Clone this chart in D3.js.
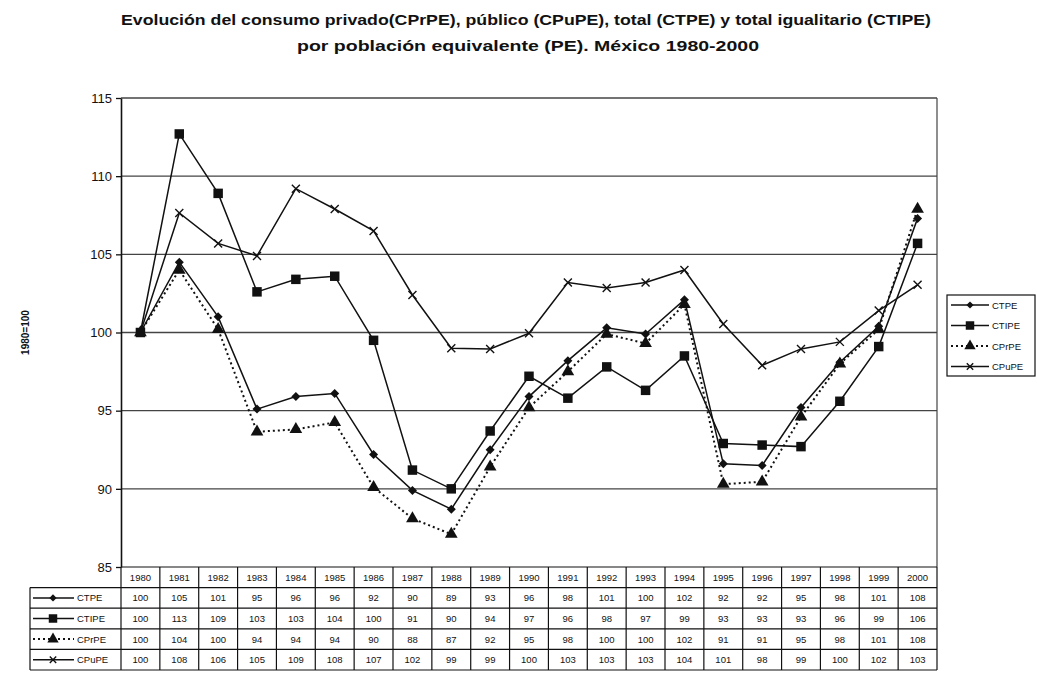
<!DOCTYPE html>
<html>
<head>
<meta charset="utf-8">
<script src="https://cdn.jsdelivr.net/npm/d3@7"></script>
<style>
  body { margin: 0; background: #fff; }
  svg { font-family: "Liberation Sans", Arial, sans-serif; }
</style>
</head>
<body>
<script>
// years on the x axis
var years = ["1980","1981","1982","1983","1984","1985","1986","1987","1988","1989","1990",
             "1991","1992","1993","1994","1995","1996","1997","1998","1999","2000"];

// values as plotted
var ctpe  = [100,104.5,101,95.1,95.9,96.1,92.2,89.9,88.7,92.5,95.9,98.2,100.3,99.9,102.1,91.6,91.5,95.2,98.1,100.4,107.3];
var ctipe = [100,112.7,108.9,102.6,103.4,103.6,99.5,91.2,90,93.7,97.2,95.8,97.8,96.3,98.5,92.9,92.8,92.7,95.6,99.1,105.7];
var cprpe = [100,104,100.2,93.65,93.8,94.25,90.1,88.1,87.1,91.4,95.2,97.5,99.9,99.3,101.8,90.3,90.45,94.6,98,100.2,107.9];
var cpupe = [100,107.65,105.7,104.9,109.2,107.9,106.5,102.4,99,98.95,99.95,103.2,102.85,103.2,104,100.55,97.9,98.95,99.4,101.4,103.05];

// values printed in the data table
var ctpeTab  = [100,105,101,95,96,96,92,90,89,93,96,98,101,100,102,92,92,95,98,101,108];
var ctipeTab = [100,113,109,103,103,104,100,91,90,94,97,96,98,97,99,93,93,93,96,99,106];
var cprpeTab = [100,104,100,94,94,94,90,88,87,92,95,98,100,100,102,91,91,95,98,101,108];
var cpupeTab = [100,108,106,105,109,108,107,102,99,99,100,103,103,103,104,101,98,99,100,102,103];

var yTicks = [85,90,95,100,105,110,115];

var series = [
  { name: "CTPE",  values: ctpe,  table: ctpeTab,  marker: "diamond",  dash: null },
  { name: "CTIPE", values: ctipe, table: ctipeTab, marker: "square",   dash: null },
  { name: "CPrPE", values: cprpe, table: cprpeTab, marker: "triangle", dash: "2,3" },
  { name: "CPuPE", values: cpupe, table: cpupeTab, marker: "cross",    dash: null }
];

var W = 1037, H = 673;
var pLeft = 121, pRight = 937, pTop = 98, pBottom = 567;
var ink = "#111";

var svg = d3.select("body").append("svg")
  .attr("width", W)
  .attr("height", H);

var x = d3.scaleBand().domain(years).range([pLeft, pRight]);
var y = d3.scaleLinear().domain([85, 115]).range([pBottom, pTop]);
var cx = function(yr) { return x(yr) + x.bandwidth() / 2; };

// title
svg.append("text").attr("x", 526).attr("y", 25).attr("text-anchor", "middle")
  .style("font-size", "15.5px").style("font-weight", "bold").attr("fill", ink)
  .attr("textLength", 810).attr("lengthAdjust", "spacingAndGlyphs")
  .text("Evolución del consumo privado(CPrPE), público (CPuPE), total (CTPE) y total igualitario (CTIPE)");
svg.append("text").attr("x", 528).attr("y", 51).attr("text-anchor", "middle")
  .style("font-size", "15.5px").style("font-weight", "bold").attr("fill", ink)
  .attr("textLength", 462).attr("lengthAdjust", "spacingAndGlyphs")
  .text("por población equivalente (PE). México 1980-2000");

// y label
svg.append("text")
  .attr("transform", "translate(29," + y(100) + ") rotate(-90)")
  .attr("text-anchor", "middle")
  .style("font-size", "10px").style("font-weight", "bold").attr("fill", ink)
  .text("1980=100");

// grid lines
svg.append("g").selectAll("line")
  .data(yTicks.filter(function(d) { return d > 85; }))
  .enter().append("line")
  .attr("x1", pLeft).attr("x2", pRight)
  .attr("y1", function(d) { return y(d); })
  .attr("y2", function(d) { return y(d); })
  .attr("stroke", "#444").attr("stroke-width", 1.3);

// right border
svg.append("line").attr("x1", pRight).attr("x2", pRight)
  .attr("y1", pTop).attr("y2", pBottom)
  .attr("stroke", "#444").attr("stroke-width", 1.2);

// y axis
var yAxis = svg.append("g")
  .attr("transform", "translate(" + pLeft + ",0)")
  .call(d3.axisLeft(y).tickValues(yTicks).tickSize(5).tickSizeOuter(0).tickPadding(4));
yAxis.selectAll("text").style("font-size", "13px").attr("fill", ink).style("font-family", "Liberation Sans, Arial");
yAxis.selectAll("line").attr("stroke", ink).attr("stroke-width", 1.3);
yAxis.select(".domain").attr("stroke", ink).attr("stroke-width", 1.6);

// marker drawing
function drawMarker(g, type, px, py, s) {
  if (type === "diamond") {
    var d = s * 0.45;
    g.append("path")
      .attr("d", "M" + px + "," + (py - d) + "L" + (px + d) + "," + py +
                 "L" + px + "," + (py + d) + "L" + (px - d) + "," + py + "Z")
      .attr("fill", ink);
  } else if (type === "square") {
    g.append("path").attr("d", d3.symbol(d3.symbolSquare, s * 9)())
      .attr("transform", "translate(" + px + "," + py + ")").attr("fill", ink);
  } else if (type === "triangle") {
    g.append("path").attr("d", d3.symbol(d3.symbolTriangle, s * 7)())
      .attr("transform", "translate(" + px + "," + py + ")").attr("fill", ink);
  } else {
    var r = s * 0.4;
    g.append("path")
      .attr("d", "M" + (px - r) + "," + (py - r) + "L" + (px + r) + "," + (py + r) +
                 "M" + (px + r) + "," + (py - r) + "L" + (px - r) + "," + (py + r))
      .attr("stroke", ink).attr("stroke-width", 1.4);
  }
}

var line = d3.line()
  .x(function(d, i) { return cx(years[i]); })
  .y(function(d) { return y(d); });

series.forEach(function(s) {
  var g = svg.append("g");
  g.append("path").datum(s.values)
    .attr("d", line)
    .attr("fill", "none")
    .attr("stroke", ink)
    .attr("stroke-width", s.dash ? 2 : 1.5)
    .attr("stroke-dasharray", s.dash);
  s.values.forEach(function(v, i) {
    drawMarker(g, s.marker, cx(years[i]), y(v), 10);
  });
});

// legend
var lg = svg.append("g");
lg.append("rect").attr("x", 947).attr("y", 295).attr("width", 88).attr("height", 81)
  .attr("fill", "#fff").attr("stroke", ink).attr("stroke-width", 1.2);
series.forEach(function(s, i) {
  var ly = 305 + i * 20.5;
  lg.append("line").attr("x1", 951).attr("x2", 989).attr("y1", ly).attr("y2", ly)
    .attr("stroke", ink).attr("stroke-width", s.dash ? 2 : 1.5).attr("stroke-dasharray", s.dash);
  drawMarker(lg, s.marker, 970, ly, 8);
  lg.append("text").attr("x", 992).attr("y", ly + 3.5)
    .style("font-size", "9.5px").attr("fill", ink).text(s.name);
});

// data table
var tTop = pBottom, rowH = 20.6, labelLeft = 30;
var tg = svg.append("g");
// year row
years.forEach(function(yr) {
  tg.append("text").attr("x", cx(yr)).attr("y", tTop + rowH / 2 + 3.5)
    .attr("text-anchor", "middle").style("font-size", "9.5px").attr("fill", ink).text(yr);
});
series.forEach(function(s, r) {
  var ry = tTop + rowH * (r + 1);
  s.table.forEach(function(v, i) {
    tg.append("text").attr("x", cx(years[i])).attr("y", ry + rowH / 2 + 3.5)
      .attr("text-anchor", "middle").style("font-size", "9.5px").attr("fill", ink).text(v);
  });
  var my = ry + rowH / 2;
  tg.append("line").attr("x1", 33).attr("x2", 74).attr("y1", my).attr("y2", my)
    .attr("stroke", ink).attr("stroke-width", s.dash ? 2 : 1.5).attr("stroke-dasharray", s.dash);
  drawMarker(tg, s.marker, 53, my, 8);
  tg.append("text").attr("x", 77).attr("y", my + 3.5)
    .style("font-size", "9.5px").attr("fill", ink).text(s.name);
});
// table grid
for (var k = 0; k <= 5; k++) {
  var hy = tTop + rowH * k;
  tg.append("line").attr("x1", k === 0 ? pLeft : labelLeft).attr("x2", pRight)
    .attr("y1", hy).attr("y2", hy).attr("stroke", ink).attr("stroke-width", 1.2);
}
years.concat(["end"]).forEach(function(yr) {
  var vx = yr === "end" ? pRight : x(yr);
  tg.append("line").attr("x1", vx).attr("x2", vx)
    .attr("y1", tTop).attr("y2", tTop + rowH * 5)
    .attr("stroke", ink).attr("stroke-width", 1.2);
});
tg.append("line").attr("x1", labelLeft).attr("x2", labelLeft)
  .attr("y1", tTop + rowH).attr("y2", tTop + rowH * 5)
  .attr("stroke", ink).attr("stroke-width", 1.2);
</script>
</body>
</html>
